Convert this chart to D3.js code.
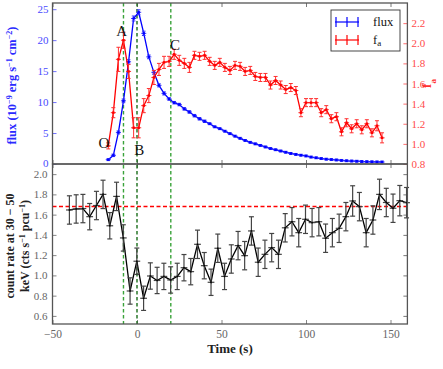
<!DOCTYPE html>
<html>
<head>
<meta charset="utf-8">
<script src="https://cdn.jsdelivr.net/npm/d3@7"></script>
<style>
  body { margin: 0; background: #fff; }
  svg text { font-family: "Liberation Serif", "DejaVu Serif", serif; }
</style>
</head>
<body>
<svg id="chart" width="443" height="369"></svg>
<script>
// ===== Data =====
// Top panel: flux and f_a share the same time bins (s)
const topTimes = [-17, -14, -11, -8, -5, -2, 1, 4, 7, 10, 13, 16, 19, 22, 25, 28, 31, 34, 37, 40,
    43, 46, 49, 52, 55, 58, 61, 64, 67, 70, 73, 76, 79, 82, 85, 88, 91, 94, 97, 100,
    103, 106, 109, 112, 115, 118, 121, 124, 127, 130, 133, 136, 139, 142, 145];
const fluxValues = [0.7, 1.4, 5.1, 10.2, 16.5, 23.5, 24.5, 21.1, 17.3, 14.8, 12.7, 11.4, 10.5, 9.9, 9.6, 8.9, 8.4, 7.8, 7.3, 6.9,
    6.5, 6.0, 5.7, 5.3, 4.9, 4.5, 4.15, 3.8, 3.5, 3.25, 3.0, 2.75, 2.5, 2.3, 2.1, 1.9, 1.7, 1.55, 1.42, 1.3,
    1.12, 1.0, 0.88, 0.78, 0.72, 0.65, 0.58, 0.52, 0.48, 0.45, 0.4, 0.37, 0.35, 0.33, 0.32];
const fluxErrors = [0.15, 0.2, 0.25, 0.3, 0.35, 0.4, 0.4, 0.35, 0.3, 0.3, 0.25, 0.25, 0.2, 0.2, 0.2, 0.2, 0.2, 0.2, 0.2, 0.2,
    0.15, 0.15, 0.15, 0.15, 0.15, 0.15, 0.15, 0.15, 0.15, 0.15, 0.15, 0.15, 0.15, 0.15, 0.15, 0.15, 0.15, 0.15, 0.15, 0.15,
    0.15, 0.15, 0.15, 0.15, 0.15, 0.15, 0.15, 0.15, 0.15, 0.15, 0.15, 0.15, 0.15, 0.15, 0.15];
const faValues = [0.98, 1.31, 1.84, 2.03, 1.72, 1.16, 1.16, 1.38, 1.48, 1.66, 1.74, 1.81, 1.82, 1.89, 1.83, 1.80, 1.76, 1.88, 1.87, 1.88,
    1.82, 1.78, 1.81, 1.76, 1.73, 1.78, 1.77, 1.72, 1.73, 1.67, 1.66, 1.66, 1.585, 1.63, 1.585, 1.54, 1.56, 1.53, 1.31, 1.41,
    1.41, 1.41, 1.31, 1.34, 1.25, 1.27, 1.12, 1.21, 1.15, 1.20, 1.14, 1.20, 1.11, 1.18, 1.06];
const faErrors = [0.03, 0.05, 0.12, 0.08, 0.07, 0.1, 0.1, 0.07, 0.07, 0.07, 0.06, 0.06, 0.05, 0.05, 0.05, 0.05, 0.05, 0.04, 0.04, 0.04,
    0.04, 0.04, 0.04, 0.04, 0.04, 0.04, 0.04, 0.04, 0.04, 0.04, 0.04, 0.04, 0.04, 0.04, 0.04, 0.04, 0.04, 0.04, 0.04, 0.04,
    0.04, 0.04, 0.04, 0.04, 0.04, 0.04, 0.04, 0.04, 0.04, 0.04, 0.04, 0.04, 0.04, 0.05, 0.05];

// Bottom panel: count rate at 30-50 keV
const rateTimes = [-40, -36, -32, -28, -24, -20.1, -16.1, -12.1, -8.1, -4.1, -0.1, 3.9, 7.9, 11.9, 15.9, 19.9, 23.8, 27.8, 31.8, 35.8,
    39.8, 43.8, 47.8, 51.8, 55.8, 59.8, 63.7, 67.7, 71.7, 75.7, 79.7, 83.7, 87.7, 91.7, 95.7, 99.7, 103.6, 107.6, 111.6, 115.6,
    119.6, 123.6, 127.6, 131.6, 135.6, 139.6, 143.5, 147.5, 151.5, 155.5, 159.5];
const rateValues = [1.646, 1.656, 1.66, 1.58, 1.69, 1.80, 1.49, 1.78, 1.37, 0.846, 1.14, 0.774, 0.994, 0.95, 0.99, 0.955, 0.99, 1.076, 1.037, 1.307,
    1.096, 0.932, 1.268, 0.99, 1.162, 1.294, 1.195, 1.439, 1.13, 1.208, 1.274, 1.208, 1.47, 1.53, 1.422, 1.554, 1.521, 1.53, 1.367, 1.422,
    1.465, 1.58, 1.735, 1.679, 1.422, 1.547, 1.80, 1.72, 1.663, 1.738, 1.718];
const rateErrors = [0.14, 0.14, 0.14, 0.13, 0.14, 0.14, 0.13, 0.14, 0.13, 0.13, 0.13, 0.12, 0.13, 0.13, 0.13, 0.13, 0.13, 0.13, 0.13, 0.14,
    0.13, 0.13, 0.14, 0.13, 0.14, 0.14, 0.14, 0.14, 0.14, 0.14, 0.14, 0.14, 0.14, 0.14, 0.14, 0.14, 0.14, 0.14, 0.14, 0.14,
    0.14, 0.14, 0.15, 0.14, 0.14, 0.14, 0.15, 0.14, 0.14, 0.15, 0.15];
const rateBaseline = 1.69;

// Vertical markers (s) and point labels (time, flux)
const markerTimes = [-8, 0, 20];
const markerColors = ['#3aa33a', '#1a6e1a', '#3aa33a'];
const pointLabels = ['O', 'A', 'B', 'C'];
const pointLabelTimes = [-19.5, -9, 1.4, 22.5];
const pointLabelFlux = [3.4, 21.4, 2.3, 19.2];

const xTicks = [-50, 0, 50, 100, 150];
const fluxTicks = [0, 5, 10, 15, 20, 25];
const faTicks = [0.8, 1.0, 1.2, 1.4, 1.6, 1.8, 2.0, 2.2];
const rateTicks = [0.6, 0.8, 1.0, 1.2, 1.4, 1.6, 1.8, 2.0];

// ===== Layout =====
const svg = d3.select('#chart');
const left = 52.5, right = 407.4;
const topY0 = 3, topY1 = 164, botY0 = 164, botY1 = 324;
const spineColor = '#555';
const fluxColor = '#0000ff';
const faColor = '#ff0000';

const x = d3.scaleLinear().domain([-50, 160]).range([left, right]);
const yFlux = d3.scaleLinear().domain([0, 26]).range([topY1, topY0]);
const yFa = d3.scaleLinear().domain([0.8, 2.4]).range([topY1, topY0]);
const yRate = d3.scaleLinear().domain([0.52, 2.1]).range([botY1, botY0]);

const fmt1 = d => d.toFixed(1);

function styleAxis(g, color) {
    g.select('.domain').remove();
    g.selectAll('.tick line').attr('stroke', color).attr('stroke-width', 0.8);
    g.selectAll('.tick text').attr('fill', color).style('font-size', '11px');
}

// ----- Axes: top panel -----
svg.append('g').attr('transform', `translate(${left},0)`)
    .call(d3.axisLeft(yFlux).tickValues(fluxTicks).tickSize(-4).tickPadding(4))
    .call(g => styleAxis(g, '#4a4aff'))
    .call(g => g.selectAll('.tick text').filter(d => d === 0).attr('dy', '0.2em'));
svg.append('g').attr('transform', `translate(${right},0)`)
    .call(d3.axisRight(yFa).tickValues(faTicks).tickFormat(fmt1).tickSize(-4).tickPadding(4))
    .call(g => styleAxis(g, '#ff4a4a'));
svg.append('g').attr('transform', `translate(0,${topY0})`)
    .call(d3.axisTop(x).tickValues(xTicks).tickSize(-4).tickFormat(''))
    .call(g => styleAxis(g, spineColor));
svg.append('g').attr('transform', `translate(0,${topY1})`)
    .call(d3.axisBottom(x).tickValues(xTicks).tickSize(-4).tickFormat(''))
    .call(g => styleAxis(g, spineColor));

// ----- Axes: bottom panel -----
svg.append('g').attr('transform', `translate(${left},0)`)
    .call(d3.axisLeft(yRate).tickValues(rateTicks).tickFormat(fmt1).tickSize(-4).tickPadding(5))
    .call(g => styleAxis(g, '#666'));
svg.append('g').attr('transform', `translate(${right},0)`)
    .call(d3.axisRight(yRate).tickValues(rateTicks).tickSize(-4).tickFormat(''))
    .call(g => styleAxis(g, spineColor));
svg.append('g').attr('transform', `translate(0,${botY0})`)
    .call(d3.axisTop(x).tickValues(xTicks).tickSize(-4).tickFormat(''))
    .call(g => styleAxis(g, spineColor));
svg.append('g').attr('transform', `translate(0,${botY1})`)
    .call(d3.axisBottom(x).tickValues(xTicks).tickSize(-4).tickPadding(6)
        .tickFormat(d => d < 0 ? '\u2212' + Math.abs(d) : d))
    .call(g => styleAxis(g, '#666'))
    .call(g => g.selectAll('.tick text').style('font-size', '11.5px'));

// ----- Reference lines -----
markerTimes.forEach((t, i) => {
    svg.append('line')
        .attr('x1', x(t)).attr('x2', x(t))
        .attr('y1', topY0).attr('y2', botY1)
        .attr('stroke', markerColors[i]).attr('stroke-width', 1.4)
        .attr('stroke-dasharray', '3.5,2.5');
});

// ----- Error bar series helper -----
function drawSeries(times, vals, errs, yScale, opt) {
    const g = svg.append('g');
    const pts = times.map((t, i) => ({ t, v: vals[i], e: errs[i] }));
    const line = d3.line().x(d => x(d.t)).y(d => yScale(d.v));
    g.append('path').datum(pts).attr('d', line)
        .attr('fill', 'none').attr('stroke', opt.color).attr('stroke-width', opt.lineWidth);
    const bars = g.selectAll('g.bar').data(pts).join('g')
        .attr('stroke', opt.barColor).attr('stroke-width', opt.barWidth);
    bars.append('line')
        .attr('x1', d => x(d.t)).attr('x2', d => x(d.t))
        .attr('y1', d => yScale(d.v - d.e)).attr('y2', d => yScale(d.v + d.e));
    [-1, 1].forEach(s => {
        bars.append('line')
            .attr('x1', d => x(d.t) - opt.cap).attr('x2', d => x(d.t) + opt.cap)
            .attr('y1', d => yScale(d.v + s * d.e)).attr('y2', d => yScale(d.v + s * d.e));
    });
    bars.append('line')
        .attr('x1', d => x(d.t - opt.xerr)).attr('x2', d => x(d.t + opt.xerr))
        .attr('y1', d => yScale(d.v)).attr('y2', d => yScale(d.v));
    g.selectAll('rect.pt').data(pts).join('rect')
        .attr('x', d => x(d.t) - opt.marker / 2).attr('y', d => yScale(d.v) - opt.marker / 2)
        .attr('width', opt.marker).attr('height', opt.marker)
        .attr('fill', opt.color);
    return g;
}

drawSeries(topTimes, fluxValues, fluxErrors, yFlux,
    { color: fluxColor, barColor: '#3030ff', lineWidth: 1.3, barWidth: 1, cap: 1.8, xerr: 1.5, marker: 2.4 });
drawSeries(topTimes, faValues, faErrors, yFa,
    { color: faColor, barColor: '#ff3030', lineWidth: 1.3, barWidth: 1, cap: 2, xerr: 1.5, marker: 2.4 });

// Baseline rate (red dashed), under the bottom series
const baseY = Math.round(yRate(rateBaseline)) + 0.5;
svg.append('line')
    .attr('x1', left).attr('x2', right)
    .attr('y1', baseY).attr('y2', baseY)
    .style('stroke', '#ff0000').style('stroke-width', '1.3px')
    .style('stroke-dasharray', '4,2.5');

drawSeries(rateTimes, rateValues, rateErrors, yRate,
    { color: '#000', barColor: '#444', lineWidth: 1.3, barWidth: 1.2, cap: 2.5, xerr: 2, marker: 1.5 });

// ----- Spines -----
[[topY0, topY1], [botY0, botY1]].forEach(([a, b]) => {
    svg.append('rect')
        .attr('x', left).attr('y', a).attr('width', right - left).attr('height', b - a)
        .attr('fill', 'none').attr('stroke', spineColor).attr('stroke-width', 1.3);
});

// ----- Point labels -----
pointLabels.forEach((lab, i) => {
    svg.append('text')
        .attr('x', x(pointLabelTimes[i])).attr('y', yFlux(pointLabelFlux[i]))
        .attr('text-anchor', 'middle').attr('dominant-baseline', 'central')
        .style('font-size', '15px').attr('fill', '#111')
        .text(lab);
});

// ----- Legend -----
const leg = svg.append('g').attr('transform', 'translate(331,10)');
leg.append('rect').attr('width', 69).attr('height', 41)
    .attr('fill', '#fff').attr('stroke', '#333').attr('stroke-width', 0.9);
[['flux', fluxColor, 12], ['f', faColor, 30]].forEach(([name, col, yy]) => {
    const e = leg.append('g').attr('stroke', col).attr('stroke-width', 1.2);
    e.append('line').attr('x1', 4).attr('x2', 28).attr('y1', yy).attr('y2', yy);
    [5, 16, 27].forEach(xx => {
        e.append('line').attr('x1', xx).attr('x2', xx).attr('y1', yy - 5).attr('y2', yy + 5);
    });
    const t = leg.append('text').attr('x', 42).attr('y', yy + 4)
        .style('font-size', '12.5px').attr('fill', '#111').text(name);
    if (name === 'f') t.append('tspan').attr('baseline-shift', '-25%').style('font-size', '9px').text('a');
});

// ----- Axis labels -----
const fluxLabel = svg.append('text')
    .attr('transform', `translate(16,${(topY0 + topY1) / 2 + 2}) rotate(-90)`)
    .attr('text-anchor', 'middle').attr('fill', '#2a2aff')
    .style('font-size', '12.5px').style('font-weight', 'bold');
fluxLabel.append('tspan').text('flux (10');
fluxLabel.append('tspan').attr('baseline-shift', 'super').style('font-size', '8px').text('\u22129');
fluxLabel.append('tspan').text(' erg s');
fluxLabel.append('tspan').attr('baseline-shift', 'super').style('font-size', '8px').text('\u22121');
fluxLabel.append('tspan').text(' cm');
fluxLabel.append('tspan').attr('baseline-shift', 'super').style('font-size', '8px').text('\u22122');
fluxLabel.append('tspan').text(')');

const faLabel = svg.append('text')
    .attr('transform', `translate(431,${(topY0 + topY1) / 2}) rotate(-90)`)
    .attr('text-anchor', 'middle').attr('fill', '#ff3030')
    .style('font-size', '13px').style('font-weight', 'bold');
faLabel.append('tspan').text('f');
faLabel.append('tspan').attr('baseline-shift', 'sub').style('font-size', '9px').text('a');

const rateLabel = svg.append('text')
    .attr('transform', `translate(0,${(botY0 + botY1) / 2 + 2}) rotate(-90)`)
    .attr('text-anchor', 'middle').attr('fill', '#222')
    .style('font-size', '12px').style('font-weight', 'bold');
rateLabel.append('tspan').attr('x', 0).attr('y', 14).text('count rate at 30 \u2212 50');
const l2 = rateLabel.append('tspan').attr('x', 0).attr('y', 29);
l2.append('tspan').text('keV (cts s');
l2.append('tspan').attr('baseline-shift', 'super').style('font-size', '8px').text('\u22121');
l2.append('tspan').text(' pcu');
l2.append('tspan').attr('baseline-shift', 'super').style('font-size', '8px').text('\u22121');
l2.append('tspan').text(')');

svg.append('text')
    .attr('x', (left + right) / 2).attr('y', 353)
    .attr('text-anchor', 'middle').attr('fill', '#222')
    .style('font-size', '13px').style('font-weight', 'bold')
    .text('Time (s)');
</script>
</body>
</html>
